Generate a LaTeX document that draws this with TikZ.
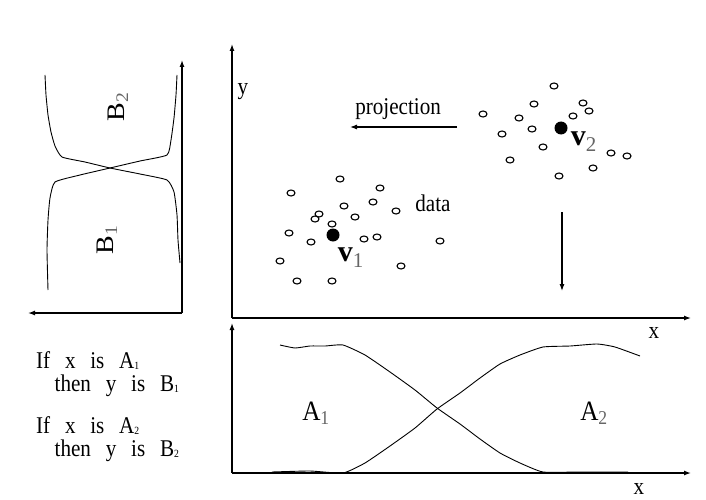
\documentclass[tikz,border=0pt]{standalone}
\usepackage{fontspec}
\setmainfont{Liberation Serif}
\usetikzlibrary{arrows.meta,positioning,calc}

\tikzset{
  axis/.style={line width=1.3pt, -{Latex[length=7pt,width=5pt]}},
  memb/.style={line width=0.9pt},
  datum/.style={line width=1.1pt},
  txt/.style={inner sep=0pt, xscale=0.88, font=\fontsize{24}{26}\selectfont},
  rule/.style={inner sep=0pt, xscale=0.88, align=left, anchor=north west,
    font=\fontsize{24}{23}\selectfont},
  setlbl/.style={inner sep=0pt, xscale=0.9, font=\fontsize{28}{30}\selectfont},
  protolbl/.style={inner sep=0pt, font=\fontsize{30}{32}\selectfont\bfseries},
}
\newcommand{\gap}{\hspace{0.7em}}
\newcommand{\gsub}[1]{\textsubscript{\mdseries\color{black!60}#1}}
\newcommand{\rsub}[1]{\raisebox{-1pt}{\fontsize{11}{11}\selectfont #1}}

\begin{document}
\begin{tikzpicture}[x=1pt, y=-1pt]
  \useasboundingbox (0,0) rectangle (706,500);
  % Scatter plot axes
  \coordinate (so) at (232,318);
  \coordinate (sy) at (232,44);
  \coordinate (sx) at (691,318);
  \draw[axis] (so) -- (sy);
  \draw[axis] (so) -- (sx);
  \node[txt] (ylbl) at (243,92) {y};
  \node[txt] (xlbl) at (654,333) {x};
  % Data points, cluster 1 and cluster 2
  \foreach \x/\y in {340/179, 380/188, 291/193, 344/206, 373/202, 396/211,
      319/214, 315/219, 355/217, 332/224, 289/233, 311/242, 364/239, 377/237,
      440/241, 280/261, 401/266, 297/281, 332/281} {
    \draw[datum] (\x,\y) ellipse (4 and 3);
  }
  \foreach \x/\y in {554/86, 534/104, 583/103, 589/111, 483/114, 519/118,
      573/116, 532/129, 502/134, 543/147, 611/153, 627/156, 510/160,
      593/168, 559/176} {
    \draw[datum] (\x,\y) ellipse (4 and 3);
  }
  % Cluster centres
  \node[circle, fill, inner sep=0pt, minimum size=13pt] (v1) at (333,235) {};
  \node[circle, fill, inner sep=0pt, minimum size=13pt] (v2) at (561,128) {};
  \node[protolbl, below right=8pt and 0pt of v1] (v1lbl) {v\gsub{1}};
  \node[protolbl, below right=-1pt and 5pt of v2] (v2lbl) {v\gsub{2}};
  \node[txt] (datalbl) at (433,203) {data};
  % Projection arrows
  \coordinate (pa) at (457,127);
  \coordinate (pb) at (350,127);
  \draw[line width=1.1pt, -{Latex[length=7pt,width=5pt]}] (pa) -- (pb);
  \node[txt, above=7pt of $(pa)!0.55!(pb)$] (projlbl) {projection};
  \coordinate (da) at (562,212);
  \coordinate (db) at (562,291);
  \draw[line width=1.1pt, -{Latex[length=7pt,width=5pt]}] (da) -- (db);

  % Membership functions on y (left)
  \coordinate (lo) at (182,313);
  \coordinate (ly) at (182,60);
  \coordinate (lx) at (28,313);
  \draw[axis] (lo) -- (ly);
  \draw[axis] (lo) -- (lx);
  \draw[memb] plot[smooth, tension=0.3] coordinates {(45,75) (46,95) (48,115)
    (51,132) (55,146) (62,157) (85,162) (110,168) (140,174) (167,180)
    (174,192) (177,215) (178,240) (180,263)};
  \draw[memb] plot[smooth, tension=0.3] coordinates {(177,75) (176,95)
    (174,118) (171,140) (167,155) (140,161) (110,168) (80,175) (55,182)
    (50,198) (48,220) (47,250) (48,290)};
  \node[setlbl, rotate=90] (b2lbl) at (118,107) {B\gsub{2}};
  \node[setlbl, rotate=90] (b1lbl) at (107,240) {B\gsub{1}};

  % Membership functions on x (bottom)
  \coordinate (bo) at (232,473);
  \coordinate (by) at (232,323);
  \coordinate (bx) at (691,473);
  \draw[axis] (bo) -- (by);
  \draw[axis] (bo) -- (bx);
  \node[txt] (xlbl2) at (639,489) {x};
  \draw[memb] plot[smooth, tension=0.3] coordinates {(280,345) (295,348)
    (310,346) (325,346) (343,345) (365,355) (390,372) (415,390) (437,408)
    (460,424) (480,439) (500,453) (520,463) (543,472) (580,472) (628,472)};
  \draw[memb] plot[smooth, tension=0.3] coordinates {(272,472) (310,471)
    (343,473) (365,463) (390,446) (415,428) (437,409) (460,393) (480,378)
    (500,364) (520,355) (543,347) (570,346) (597,344) (615,347) (640,356)};
  \node[setlbl] (a1lbl) at (316,413) {A\gsub{1}};
  \node[setlbl] (a2lbl) at (594,413) {A\gsub{2}};

  % Fuzzy rules
  \node[rule] (rule1) at (36,351) {If\gap x\gap is\gap A\rsub{1}\\
    \hspace{21pt}then\gap y\gap is\gap B\rsub{1}};
  \node[rule] (rule2) at (36,416) {If\gap x\gap is\gap A\rsub{2}\\
    \hspace{21pt}then\gap y\gap is\gap B\rsub{2}};
\end{tikzpicture}
\end{document}
